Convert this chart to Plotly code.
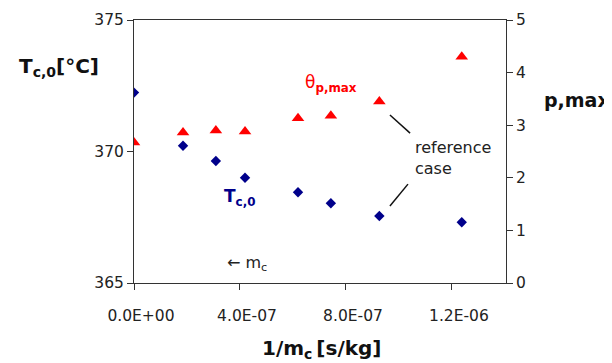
import plotly.graph_objects as go

# Data (x = 1/m_c [s/kg])
x_vals = [0.0, 0.185e-6, 0.309e-6, 0.419e-6, 0.619e-6, 0.743e-6, 0.926e-6, 1.237e-6]
t_c0 = [372.24, 370.22, 369.64, 369.0, 368.45, 368.03, 367.55, 367.31]
theta_pmax = [2.67, 2.86, 2.90, 2.88, 3.13, 3.18, 3.45, 4.30]

x_tick_vals = [0.0, 4e-7, 8e-7, 1.2e-6]
x_tick_labels = ["0.0E+00", "4.0E-07", "8.0E-07", "1.2E-06"]
y_left_ticks = [365, 370, 375]
y_right_ticks = [0, 1, 2, 3, 4, 5]

FONT = "DejaVu Sans"
AX = "#333333"
NAVY = "#00008B"
RED = "#FF0000"

fig = go.Figure()
fig.add_trace(go.Scatter(x=x_vals, y=t_c0, mode="markers",
                         marker=dict(symbol="diamond", size=8, color=NAVY),
                         showlegend=False))
fig.add_trace(go.Scatter(x=x_vals, y=theta_pmax, mode="markers", yaxis="y2",
                         marker=dict(symbol="triangle-up", size=11, color=RED),
                         showlegend=False))

tickfont = dict(family=FONT, size=15.5, color="#222222")

fig.update_layout(
    width=604, height=355,
    margin=dict(l=126, r=106, t=12, b=80),
    paper_bgcolor="white", plot_bgcolor="white",
    xaxis=dict(range=[0, 1.404e-6], tickvals=x_tick_vals, ticktext=x_tick_labels,
               showline=True, linecolor=AX, linewidth=1, mirror=True,
               ticks="outside", ticklen=6, tickcolor=AX, showgrid=False,
               zeroline=False, tickfont=tickfont, automargin=False,
               ticklabelshift=7, ticklabelstandoff=12),
    yaxis=dict(range=[365, 375], tickvals=y_left_ticks,
               showline=True, linecolor=AX, linewidth=1,
               ticks="outside", ticklen=6, tickcolor=AX, showgrid=False,
               zeroline=False, tickfont=tickfont, automargin=False),
    yaxis2=dict(range=[0, 5], tickvals=y_right_ticks, overlaying="y", side="right",
                showline=True, linecolor=AX, linewidth=1,
                ticks="outside", ticklen=6, tickcolor=AX, showgrid=False,
                zeroline=False, tickfont=tickfont, automargin=False),
)

ann = []
# axis titles
ann.append(dict(text="<b>T<sub>c,0</sub>[°C]</b>", x=-0.315, y=0.821, xref="paper", yref="paper",
                xanchor="left", yanchor="middle", showarrow=False,
                font=dict(family=FONT, size=20, color="#111111")))
ann.append(dict(text="<b>p,max</b>", x=1.096, y=0.696, xref="paper", yref="paper",
                xanchor="left", yanchor="middle", showarrow=False,
                font=dict(family=FONT, size=19, color="#111111")))
ann.append(dict(text="<b>1/m<sub>c</sub>\u2009[s/kg]</b>", x=0.505, y=-0.251, xref="paper", yref="paper",
                xanchor="center", yanchor="middle", showarrow=False,
                font=dict(family=FONT, size=20, color="#111111")))
# series labels
ann.append(dict(text="θ<sub><b>p,max</b></sub>", x=0.638e-6, y=372.6, xref="x", yref="y",
                xanchor="left", yanchor="middle", showarrow=False,
                font=dict(family=FONT, size=17, color=RED)))
ann.append(dict(text="<b>T<sub>c,0</sub></b>", x=0.332e-6, y=368.27, xref="x", yref="y",
                xanchor="left", yanchor="middle", showarrow=False,
                font=dict(family=FONT, size=17, color=NAVY)))
ann.append(dict(text="reference<br>case", x=1.053e-6, y=369.77, xref="x", yref="y",
                xanchor="left", yanchor="middle", align="left", showarrow=False,
                font=dict(family=FONT, size=16, color="#222222")))
ann.append(dict(text="← m<sub>c</sub>", x=0.426e-6, y=365.76, xref="x", yref="y",
                xanchor="center", yanchor="middle", showarrow=False,
                font=dict(family=FONT, size=16, color="#222222")))
fig.update_layout(annotations=ann)

# pointer lines for "reference case"
fig.add_shape(type="line", x0=0.966e-6, y0=371.39, x1=1.042e-6, y1=370.70,
              xref="x", yref="y", line=dict(color="#111111", width=1.5))
fig.add_shape(type="line", x0=1.034e-6, y0=368.76, x1=0.966e-6, y1=367.93,
              xref="x", yref="y", line=dict(color="#111111", width=1.5))

fig.write_html("out.html")
